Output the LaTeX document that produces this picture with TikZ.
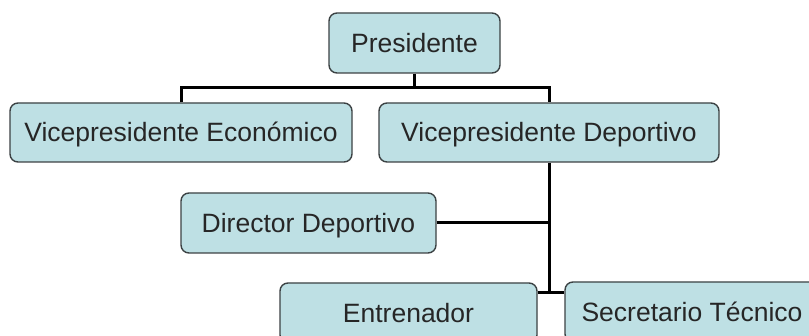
\documentclass[tikz,border=0pt]{standalone}
\usepackage{fontspec}
\setmainfont{Liberation Sans}
\definecolor{boxfill}{RGB}{190,224,228}
\definecolor{boxline}{RGB}{60,66,68}
\begin{document}
\begin{tikzpicture}[x=1pt,y=-1pt,
  orgbox/.style={draw=boxline, line width=1.4pt, fill=boxfill, rounded corners=8pt,
    inner sep=0pt, font=\fontsize{26.5}{27}\selectfont, text height=19pt, text depth=0pt,
    text=black!85, minimum height=60pt},
  link/.style={draw=black, line width=3pt}]
\useasboundingbox (0,0) rectangle (809,336);
\clip (0,0) rectangle (809,336);
\fill[white] (0,0) rectangle (809,336);
\node[orgbox, minimum width=171pt] (pres) at (414.5,43) {Presidente};
\node[orgbox, minimum width=342pt, minimum height=59pt] (ve) at (181,132.5) {Vicepresidente Económico};
\node[orgbox, minimum width=340pt, minimum height=59pt] (vd) at (549,132.5) {Vicepresidente Deportivo};
\node[orgbox, minimum width=255pt] (dd) at (308.5,223) {Director Deportivo};
\node[orgbox, minimum width=257pt] (ent) at (408.5,313) {Entrenador};
\node[orgbox, minimum width=254pt] (sec) at (692,312) {Secretario Técnico};
\coordinate (bus) at (414.5,88);
\coordinate (j) at (549,293);
\draw[link] (pres.south) -- (bus);
\draw[link] (ve.north) -- (ve.north |- bus) -- (vd.north |- bus) -- (vd.north);
\draw[link] (vd.south) -- (j);
\draw[link] (dd.east) -- (dd.east -| j);
\draw[link] (ent.east |- j) -- (sec.west |- j);
\end{tikzpicture}
\end{document}
